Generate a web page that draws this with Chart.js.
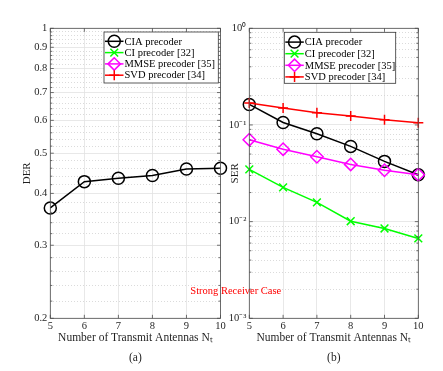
<!DOCTYPE html>
<html><head><meta charset="utf-8">
<script src="https://cdn.jsdelivr.net/npm/chart.js@4.4.1/dist/chart.umd.min.js"></script>
<style>
html,body{margin:0;padding:0;background:#fff;}
#wrap{position:relative;width:443px;height:371px;}
canvas{position:absolute;left:0;top:0;}
</style></head><body>
<div id="wrap"><canvas id="cA" width="443" height="371"></canvas><canvas id="cB" width="443" height="371"></canvas></div>
<script>
// ---- data ----
const antennas = [5, 6, 7, 8, 9, 10];
const derCIA = [0.369, 0.427, 0.435, 0.442, 0.458, 0.460];
const serCIA = [0.163, 0.106, 0.081, 0.060, 0.042, 0.0305];
const serCI = [0.0347, 0.0226, 0.0158, 0.0101, 0.0085, 0.0067];
const serMMSE = [0.0704, 0.0562, 0.0469, 0.0391, 0.0340, 0.0306];
const serSVD = [0.169, 0.150, 0.1335, 0.124, 0.113, 0.1055];
const seriesLabels = ['CIA precoder', 'CI precoder [32]', 'MMSE precoder [35]', 'SVD precoder [34]'];
const derTicks = [0.2, 0.3, 0.4, 0.5, 0.6, 0.7, 0.8, 0.9, 1];
const derTickLabels = ['0.2', '0.3', '0.4', '0.5', '0.6', '0.7', '0.8', '0.9', '1'];
const serTicks = [0.001, 0.01, 0.1, 1];
const serTickLabels = ['10\u207B\u00B3', '10\u207B\u00B2', '10\u207B\u00B9', '10\u2070'];
const xTitle = 'Number of Transmit Antennas N\u209C';
const derTitle = 'DER';
const serTitle = 'SER';
const noteText = 'Strong Receiver Case';
const noteAt = {x: 4.6, y: 0.0019};

// ---- styles ----
const FONT = "'Liberation Serif', 'Times New Roman', serif";
const seriesStyles = [
  {color: '#000000', pointStyle: 'circle', radius: 6, order: 4},
  {color: '#00ff00', pointStyle: 'crossRot', radius: 5.5, order: 3},
  {color: '#ff00ff', pointStyle: 'rectRot', radius: 6.2, order: 2},
  {color: '#ff0000', pointStyle: 'cross', radius: 5, order: 1}
];
const GRID_MAJOR = '#e2e2e2', GRID_MINOR = '#d2d2d2';
const TEXT = '#1f1f1f';

function makeDataset(i, values) {
  const s = seriesStyles[i];
  return {
    label: seriesLabels[i],
    data: values.map((v, k) => ({x: antennas[k], y: v})),
    borderColor: s.color, backgroundColor: 'rgba(0,0,0,0)',
    pointBorderColor: s.color, pointBackgroundColor: 'rgba(0,0,0,0)',
    borderWidth: 1.5, pointBorderWidth: 1.5,
    pointStyle: s.pointStyle, pointRadius: s.radius, pointHoverRadius: s.radius,
    tension: 0, clip: false, order: s.order
  };
}

function minorDer() {
  const out = [];
  for (let k = 10; k < 50; k++) { const v = Math.round(k * 2) / 100; if (k % 5 !== 0) out.push(v); }
  return out;
}
function minorSer() {
  const out = [];
  for (let e = -3; e < 0; e++) for (let m = 2; m <= 9; m++) out.push(m * Math.pow(10, e));
  return out;
}
function gridTicks(majors, minors) {
  return majors.map(v => ({value: v, major: true}))
    .concat(minors.map(v => ({value: v, major: false})))
    .sort((a, b) => a.value - b.value);
}
function labelFor(majors, labels) {
  return function (value, index, ticks) {
    const t = ticks[index];
    if (t && !t.major) return '';
    const k = majors.findIndex(m => Math.abs(m - value) / m < 1e-6);
    return k >= 0 ? labels[k] : '';
  };
}

function drawFrame(chart) {
  const {ctx, chartArea: a, scales} = chart;
  ctx.save();
  ctx.strokeStyle = '#4d4d4d'; ctx.lineWidth = 0.8;
  ctx.strokeRect(a.left, a.top, a.right - a.left, a.bottom - a.top);
  ctx.beginPath();
  scales.y.ticks.forEach(t => {
    const p = scales.y.getPixelForValue(t.value);
    const L = t.major ? 3.5 : 2;
    ctx.moveTo(a.left, p); ctx.lineTo(a.left + L, p);
    ctx.moveTo(a.right, p); ctx.lineTo(a.right - L, p);
  });
  scales.x.ticks.forEach(t => {
    const p = scales.x.getPixelForValue(t.value);
    ctx.moveTo(p, a.bottom); ctx.lineTo(p, a.bottom - 3.5);
    ctx.moveTo(p, a.top); ctx.lineTo(p, a.top + 3.5);
  });
  ctx.stroke();
  ctx.restore();
}

function drawLegend(chart, o) {
  const ctx = chart.ctx, a = chart.chartArea;
  const x0 = a.left + o.dx, y0 = a.top + o.dy;
  ctx.save();
  ctx.fillStyle = '#ffffff';
  ctx.fillRect(x0, y0, o.w, o.h);
  ctx.strokeStyle = '#333333'; ctx.lineWidth = 0.8;
  ctx.strokeRect(x0, y0, o.w, o.h);
  ctx.font = '10.5px ' + FONT;
  ctx.textBaseline = 'middle'; ctx.textAlign = 'left';
  chart.data.datasets.forEach((ds, i) => {
    const cy = y0 + o.first + i * o.step;
    ctx.strokeStyle = ds.borderColor; ctx.lineWidth = ds.borderWidth;
    ctx.beginPath(); ctx.moveTo(x0 + 1, cy); ctx.lineTo(x0 + o.sample, cy); ctx.stroke();
    ctx.fillStyle = 'rgba(0,0,0,0)';
    Chart.helpers.drawPoint(ctx, {pointStyle: ds.pointStyle, rotation: 0, radius: ds.pointRadius, borderWidth: ds.borderWidth}, x0 + 1 + (o.sample - 1) / 2, cy);
    ctx.fillStyle = '#000000';
    ctx.fillText(ds.label, x0 + o.sample + 1, cy + 0.5);
  });
  ctx.restore();
}

const matlabPlugin = {
  id: 'matlab',
  afterDatasetsDraw(chart) { drawFrame(chart); },
  afterDraw(chart, args, opts) {
    if (opts.legend) drawLegend(chart, opts.legend);
    if (opts.note) {
      const ctx = chart.ctx;
      ctx.save();
      ctx.font = '10.5px ' + FONT;
      ctx.fillStyle = '#ff0000';
      ctx.textAlign = 'center'; ctx.textBaseline = 'middle';
      ctx.fillText(opts.note.text, chart.scales.x.getPixelForValue(opts.note.x), chart.scales.y.getPixelForValue(opts.note.y));
      ctx.restore();
    }
  }
};

function xScale(sub) {
  return {
    type: 'linear', position: 'bottom', min: 5, max: 10,
    afterBuildTicks: s => { s.ticks = antennas.map(v => ({value: v, major: true})); },
    afterFit: s => { s.height = 49.95; },
    grid: {color: GRID_MAJOR, lineWidth: 0.8, drawTicks: false},
    border: {display: false},
    ticks: {autoSkip: false, maxRotation: 0, padding: 2, color: TEXT, font: {family: FONT, size: 10.5, lineHeight: 1.2}},
    title: {display: true, text: [xTitle, sub], color: TEXT, padding: {top: 0, bottom: 0}, font: {family: FONT, size: 11.5, lineHeight: 1.783}}
  };
}
function yScale(min, max, majors, minors, labels, title, width, titlePad) {
  return {
    type: 'logarithmic', position: 'left', min: min, max: max,
    afterBuildTicks: s => { s.ticks = gridTicks(majors, minors); },
    afterFit: s => { s.width = width; },
    grid: {color: c => (c.tick && !c.tick.major) ? GRID_MINOR : GRID_MAJOR, lineWidth: 0.8, drawTicks: false},
    border: {display: false, dash: c => (c.tick && !c.tick.major) ? [1, 2] : []},
    ticks: {autoSkip: false, padding: 3, color: TEXT, font: {family: FONT, size: 10.5, lineHeight: 1.2}, callback: labelFor(majors, labels)},
    title: {display: true, text: title, color: TEXT, padding: {top: titlePad, bottom: 0}, font: {family: FONT, size: 11, lineHeight: 1.2}}
  };
}

const common = {responsive: false, animation: false, events: []};

new Chart(document.getElementById('cA'), {
  type: 'line',
  data: {datasets: [makeDataset(0, derCIA), makeDataset(1, []), makeDataset(2, []), makeDataset(3, [])]},
  options: Object.assign({}, common, {
    layout: {padding: {left: 0, right: 222.5, top: 28.3, bottom: 2.75}},
    scales: {x: xScale('(a)'), y: yScale(0.2, 1, derTicks, minorDer(), derTickLabels, derTitle, 50.3, 20.9)},
    plugins: {legend: {display: false}, tooltip: {enabled: false},
      matlab: {legend: {dx: 53.7, dy: 3.7, w: 114.3, h: 51, first: 9.3, step: 11.3, sample: 19.5}}}
  }),
  plugins: [matlabPlugin]
});

new Chart(document.getElementById('cB'), {
  type: 'line',
  data: {datasets: [makeDataset(0, serCIA), makeDataset(1, serCI), makeDataset(2, serMMSE), makeDataset(3, serSVD)]},
  options: Object.assign({}, common, {
    layout: {padding: {left: 219.3, right: 24.7, top: 28.3, bottom: 2.75}},
    scales: {x: xScale('(b)'), y: yScale(0.001, 1, serTicks, minorSer(), serTickLabels, serTitle, 30, 9.1)},
    plugins: {legend: {display: false}, tooltip: {enabled: false},
      matlab: {legend: {dx: 35, dy: 4, w: 111.4, h: 51, first: 9.8, step: 11.6, sample: 19.5},
               note: {text: noteText, x: noteAt.x, y: noteAt.y}}}
  }),
  plugins: [matlabPlugin]
});
</script>
</body></html>
